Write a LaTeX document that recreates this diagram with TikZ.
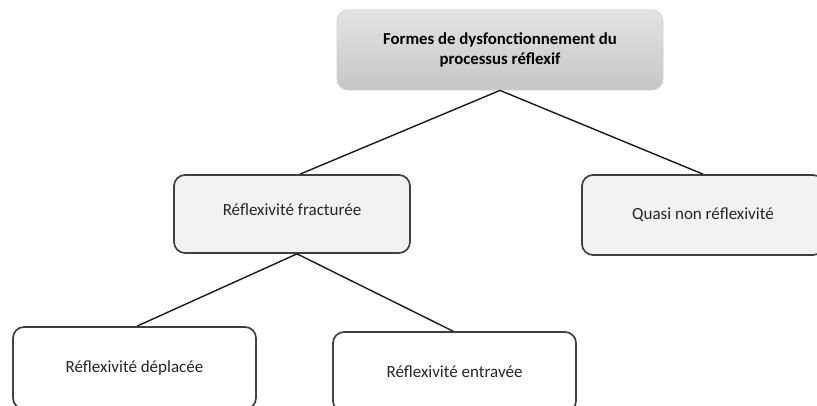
\documentclass[tikz,border=0pt]{standalone}
\usepackage{fontspec}
\setmainfont{Carlito}
\definecolor{boxline}{HTML}{404040}
\definecolor{lightfill}{HTML}{F2F2F2}
\definecolor{gradtop}{HTML}{E4E4E4}
\definecolor{gradbot}{HTML}{C6C6C6}
\definecolor{topline}{HTML}{D2D2D2}
\tikzset{
  boxbase/.style={rounded corners=11pt, inner sep=0pt, align=center,
    font=\fontsize{17}{20}\selectfont, text=black!85},
  topbox/.style={boxbase, top color=gradtop, bottom color=gradbot, draw=topline, line width=0.8pt,
    font=\bfseries\fontsize{16.8}{20}\selectfont, text=black},
  greybox/.style={boxbase, fill=lightfill, draw=boxline, line width=1.7pt},
  whitebox/.style={boxbase, fill=white, draw=boxline, line width=1.7pt},
  link/.style={draw=black!90, line width=1.4pt}
}
\begin{document}
\begin{tikzpicture}[x=1pt,y=-1pt]
\clip (0,0) rectangle (817,405);
\fill[white] (0,0) rectangle (817,405);
\node[topbox, minimum width=326pt, minimum height=80pt] (top) at (500,50)
  {Formes de dysfonctionnement du\\processus réflexif};
\node[greybox, minimum width=236pt, minimum height=78pt] (frac) at (292,214)
  {\raisebox{9pt}{Réflexivité fracturée}};
\node[greybox, minimum width=242pt, minimum height=80pt] (quasi) at (703,215)
  {\raisebox{-5pt}{Quasi non réflexivité}};
\node[whitebox, minimum width=243pt, minimum height=82pt] (depl) at (134.5,368)
  {Réflexivité déplacée};
\node[whitebox, minimum width=243pt, minimum height=80pt] (entr) at (454.5,372)
  {Réflexivité entravée};
\draw[link] (top.south) -- ([xshift=8pt]frac.north);
\draw[link] (top.south) -- (quasi.north);
\draw[link] ([xshift=5pt]frac.south) -- ([xshift=2.5pt]depl.north);
\draw[link] ([xshift=5pt]frac.south) -- ([xshift=-1.5pt]entr.north);
\end{tikzpicture}
\end{document}
